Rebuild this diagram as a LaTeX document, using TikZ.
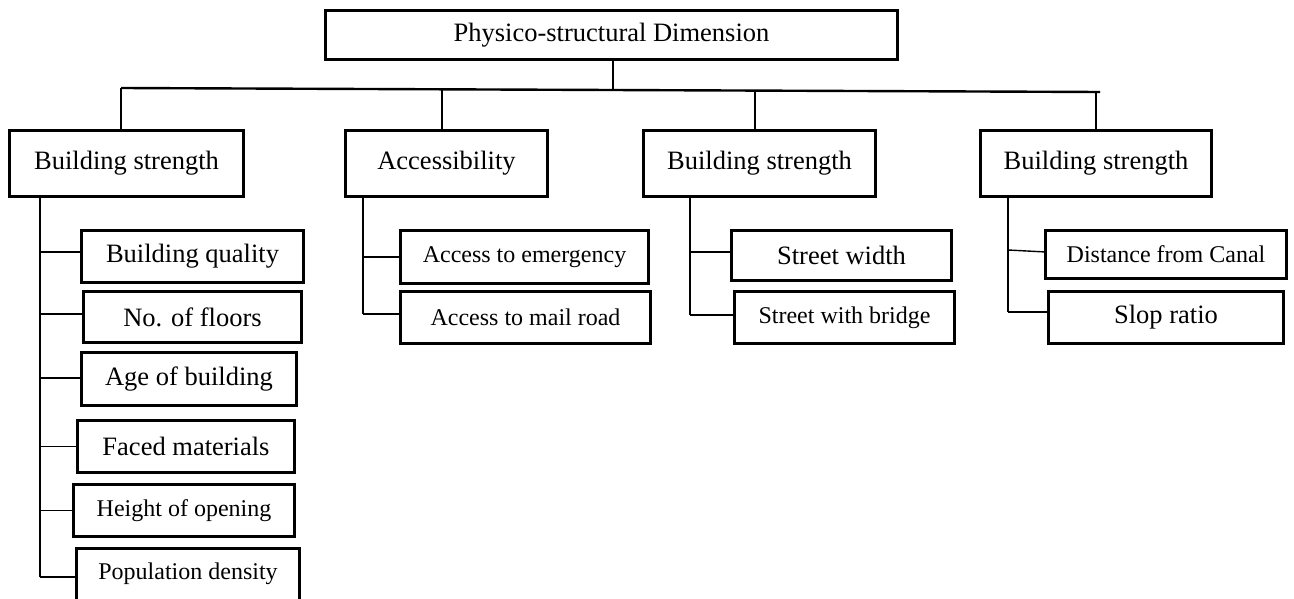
\documentclass[tikz,border=0pt]{standalone}
\usepackage{fontspec}
\setmainfont{Liberation Serif}
\begin{document}
\begin{tikzpicture}[x=1pt,y=-1pt,
  boxline/.style={line width=2.9pt, line join=miter},
  box/.style={inner sep=0pt, align=center, font=\fontsize{26.5}{30}\selectfont},
  sbox/.style={box, font=\fontsize{24}{28}\selectfont},
  trunk/.style={line width=2.4pt},
  branch/.style={line width=1.4pt}]
\useasboundingbox (0,0) rectangle (1294,599);
% top
\node[box, minimum width=571pt, minimum height=48pt] (top) at (611.5,35) {Physico-structural Dimension};
% level 1
\node[box, minimum width=233pt, minimum height=65pt] (b1) at (126.5,163.5) {Building strength};
\node[box, minimum width=201pt, minimum height=65pt] (b2) at (446.5,163.5) {Accessibility};
\node[box, minimum width=231pt, minimum height=65pt] (b3) at (759.5,163.5) {Building strength};
\node[box, minimum width=230pt, minimum height=65pt] (b4) at (1096,163.5) {Building strength};
% children of b1
\node[box,  minimum width=221pt, minimum height=51pt] (bq) at (192.5,256.5) {Building quality};
\node[box,  minimum width=217pt, minimum height=50pt] (nf) at (192.5,317) {No. of floors};
\node[box,  minimum width=214pt, minimum height=52pt] (ab) at (189,379) {Age of building};
\node[box,  minimum width=216pt, minimum height=51pt] (fm) at (186,446.5) {Faced materials};
\node[sbox, minimum width=220pt, minimum height=51pt] (ho) at (184,510.5) {Height of opening};
\node[sbox, minimum width=222pt, minimum height=49pt] (pd) at (188,573.5) {Population density};
% children of b2
\node[sbox, minimum width=247pt, minimum height=52pt] (ae) at (524.5,257) {Access to emergency};
\node[sbox, minimum width=249pt, minimum height=51pt] (am) at (525.5,317.5) {Access to mail road};
% children of b3
\node[box,  minimum width=219pt, minimum height=49pt] (sw) at (841.5,255.5) {Street width};
\node[sbox, minimum width=219pt, minimum height=51pt] (sb) at (844.5,317.5) {Street with bridge};
% children of b4
\node[sbox, minimum width=240pt, minimum height=47pt] (dc) at (1166,254.5) {Distance from Canal};
\node[box,  minimum width=234pt, minimum height=51pt] (sr) at (1166,317.5) {Slop ratio};

% box outlines
\foreach \n in {top,b1,b2,b3,b4,bq,nf,ab,fm,ho,ae,am,sw,sb,dc,sr}
  \draw[boxline] (\n.north west) rectangle (\n.south east);
\draw[boxline] ([yshift=-15pt]pd.south west) |- (pd.north east) -- ([yshift=-15pt]pd.south east);

% top connectors
\coordinate (hl) at (121,88);
\coordinate (hr) at (1100,92);
\coordinate (d1) at (121,88);
\coordinate (d2) at (442,89.3);
\coordinate (d3) at (755,90.6);
\coordinate (d4) at (1096,92);
\coordinate (j0) at (613,90);
\draw[trunk] (top.south -| j0) -- (j0);
\draw[trunk] (hl) -- (hr);
\draw[trunk] (d1) -- (d1 |- b1.north);
\draw[trunk] (d2) -- (d2 |- b2.north);
\draw[trunk] (d3) -- (d3 |- b3.north);
\draw[trunk] (d4) -- (d4 |- b4.north);

% branch points
\coordinate (x1) at (40,0);
\coordinate (x2) at (363,0);
\coordinate (x3) at (690,0);
\coordinate (x4) at (1008,0);
\coordinate (bqw) at ([yshift=4.5pt]bq.west);
\coordinate (nfw) at ([yshift=3pt]nf.west);
\coordinate (abw) at ([yshift=1pt]ab.west);
\coordinate (fmw) at (fm.west);
\coordinate (how) at (ho.west);
\coordinate (pdw) at ([yshift=-3.5pt]pd.west);
\coordinate (aew) at (ae.west);
\coordinate (amw) at ([yshift=3.5pt]am.west);
\coordinate (sww) at ([yshift=3.5pt]sw.west);
\coordinate (sbw) at ([yshift=2.5pt]sb.west);
\coordinate (dcw) at ([yshift=2.5pt]dc.west);
\coordinate (srw) at ([yshift=5.5pt]sr.west);

% spines
\draw[trunk] (b1.south -| x1) -- (x1 |- pdw);
\draw[trunk] (b2.south -| x2) -- (x2 |- amw);
\draw[trunk] (b3.south -| x3) -- (x3 |- sbw);
\draw[trunk] (b4.south -| x4) -- (x4 |- srw);

% branches
\foreach \c in {bqw,nfw,abw,fmw,how,pdw} \draw[branch] (x1 |- \c) -- (\c);
\foreach \c in {aew,amw} \draw[branch] (x2 |- \c) -- (\c);
\foreach \c in {sww,sbw} \draw[branch] (x3 |- \c) -- (\c);
\draw[branch] ([yshift=2pt]x4 |- dcw) -- (dcw);
\draw[branch] (x4 |- srw) -- (srw);
\end{tikzpicture}
\end{document}
